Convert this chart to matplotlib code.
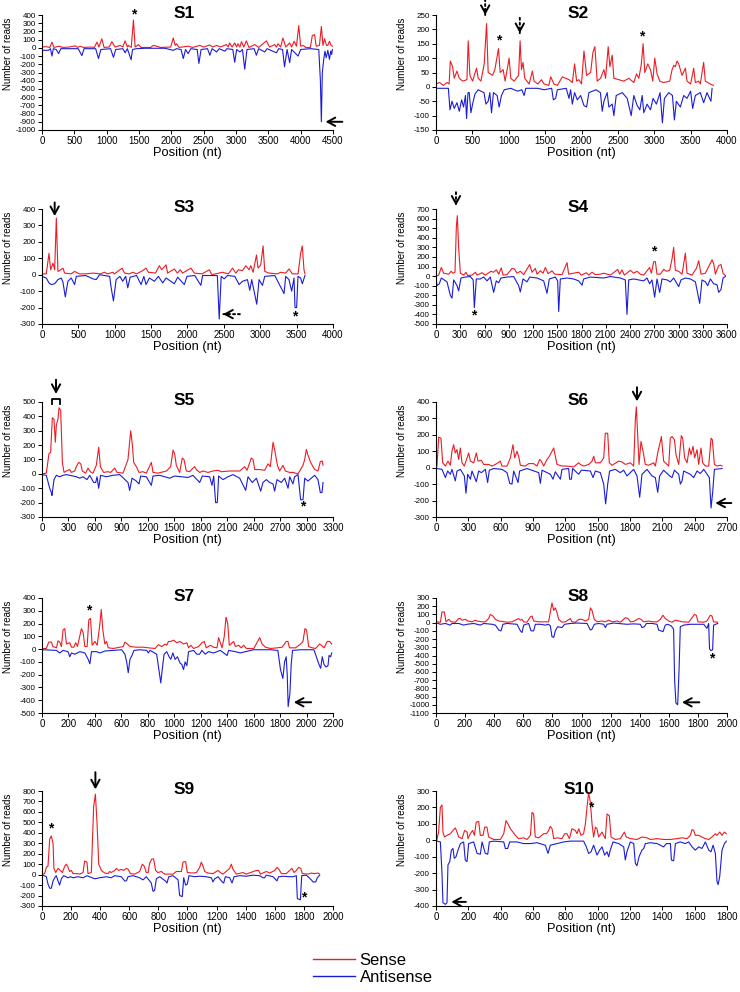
import numpy as np
import matplotlib.pyplot as plt
from matplotlib.lines import Line2D

plt.rcParams['font.family'] = ['Liberation Sans', 'DejaVu Sans']
plt.rcParams['axes.unicode_minus'] = False

RED = '#ec1c24'
BLUE = '#1c1cd8'

# read counts along each genome segment: (position nt, reads)
s1_sense = [(0, 10), (60, 15), (120, 5), (154, 70), (185, 5), (257, 20), (330, 5), (420, 10), (515, 25), (550, 5),
            (590, 20), (640, 5), (760, 10), (810, 5), (850, 70), (880, 10), (925, 110), (960, 5), (1040, 10), (1080, 75),
            (1130, 10), (1210, 30), (1250, 10), (1285, 85), (1320, 10), (1336, 30), (1380, 5), (1414, 340), (1440, 10),
            (1490, 40), (1530, 5), (1680, 5), (1720, 30), (1775, 20), (1830, 5), (1990, 10), (2030, 120), (2060, 30),
            (2080, 50), (2120, 5), (2260, 20), (2330, 5), (2440, 30), (2500, 10), (2595, 35), (2640, 10), (2700, 30),
            (2760, 10), (2850, 40), (2880, 10), (2900, 60), (2940, 10), (2980, 60), (3010, 10), (3030, 50), (3060, 10),
            (3085, 75), (3120, 10), (3160, 85), (3200, 5), (3290, 40), (3350, 5), (3470, 85), (3520, 10), (3600, 40),
            (3625, 10), (3650, 50), (3690, 10), (3725, 120), (3770, 10), (3830, 60), (3860, 10), (3900, 80), (3935, 20),
            (3970, 270), (4000, 20), (4035, 30), (4080, 5), (4150, 5), (4180, 150), (4215, 160), (4240, 20), (4290, 30),
            (4320, 260), (4345, 30), (4370, 110), (4400, 30), (4420, 30), (4445, 80), (4470, 30), (4490, 20)]
s1_anti = [(0, -30), (100, -30), (130, -10), (154, -100), (175, -10), (220, -20), (257, -70), (290, -10), (400, -10),
           (560, -10), (617, -95), (650, -10), (830, -10), (874, -130), (910, -20), (1060, -10), (1105, -115), (1140, -20),
           (1250, -10), (1285, -60), (1320, -10), (1378, -145), (1400, -20), (1460, -10), (1600, -5), (1900, -5),
           (2030, -30), (2080, -10), (2150, -20), (2185, -130), (2220, -20), (2260, -70), (2300, -10), (2400, -20),
           (2426, -190), (2460, -20), (2560, -10), (2595, -90), (2630, -10), (2700, -50), (2740, -10), (2827, -40),
           (2860, -10), (2950, -20), (2980, -175), (3010, -20), (3060, -50), (3100, -20), (3135, -260), (3170, -20),
           (3280, -10), (3315, -90), (3350, -10), (3445, -50), (3480, -10), (3625, -60), (3660, -10), (3720, -20),
           (3750, -230), (3790, -20), (3830, -180), (3860, -20), (3960, -100), (4000, -20), (4150, -10), (4280, -20),
           (4305, -400), (4320, -900), (4335, -300), (4355, -150), (4375, -40), (4395, -120), (4420, -30), (4445, -140),
           (4465, -40), (4480, -80), (4490, -20)]

s2_sense = [(0, 10), (50, 15), (100, 5), (150, 15), (180, 10), (197, 90), (228, 70), (251, 30), (288, 55), (320, 30),
            (366, 20), (425, 25), (443, 160), (466, 40), (503, 20), (557, 65), (580, 30), (617, 20), (663, 80), (695, 220),
            (717, 50), (777, 40), (809, 60), (859, 133), (882, 50), (923, 60), (950, 20), (1005, 100), (1028, 30),
            (1074, 20), (1135, 40), (1156, 160), (1175, 60), (1197, 85), (1220, 30), (1280, 10), (1325, 55), (1348, 20),
            (1400, 10), (1449, 25), (1485, 10), (1550, 5), (1577, 35), (1622, 10), (1668, 5), (1737, 35), (1782, 30),
            (1828, 25), (1874, 15), (1905, 80), (1933, 20), (1965, 25), (2000, 10), (2034, 125), (2070, 40), (2125, 50),
            (2157, 120), (2184, 140), (2216, 20), (2262, 30), (2308, 60), (2331, 30), (2367, 140), (2390, 70),
            (2422, 110), (2445, 30), (2513, 25), (2582, 20), (2651, 30), (2719, 15), (2756, 45), (2788, 30), (2820, 75),
            (2847, 150), (2870, 50), (2911, 80), (2948, 60), (2980, 20), (3007, 100), (3039, 45), (3076, 20), (3130, 15),
            (3213, 20), (3245, 60), (3268, 75), (3290, 70), (3313, 90), (3336, 80), (3359, 60), (3382, 40), (3428, 65),
            (3450, 20), (3500, 10), (3542, 65), (3565, 15), (3611, 20), (3633, 10), (3679, 85), (3702, 20), (3770, 10),
            (3815, 5)]
s2_anti = [(0, -5), (100, -5), (170, -5), (192, -80), (220, -50), (251, -75), (288, -55), (320, -85), (352, -45),
           (379, -70), (405, -30), (420, -110), (440, -20), (457, -20), (480, -90), (503, -60), (535, -25), (580, -10),
           (617, -15), (660, -20), (686, -60), (717, -50), (740, -20), (763, -90), (790, -20), (840, -30), (868, -70),
           (900, -30), (937, -10), (1028, -5), (1120, -15), (1180, -10), (1211, -30), (1234, -5), (1400, -5), (1485, -10),
           (1590, -5), (1613, -45), (1645, -40), (1668, -10), (1790, -5), (1828, -40), (1850, -10), (1874, -60),
           (1905, -20), (1942, -45), (1988, -30), (2034, -65), (2070, -70), (2102, -20), (2200, -10), (2260, -20),
           (2285, -85), (2308, -50), (2353, -20), (2376, -70), (2422, -60), (2445, -100), (2477, -30), (2560, -20),
           (2628, -40), (2683, -100), (2719, -30), (2765, -65), (2802, -80), (2834, -30), (2856, -90), (2902, -60),
           (2948, -80), (2984, -40), (3030, -60), (3080, -20), (3112, -125), (3140, -40), (3199, -20), (3250, -30),
           (3277, -115), (3304, -50), (3359, -70), (3405, -30), (3450, -40), (3500, -15), (3528, -75), (3565, -30),
           (3633, -20), (3679, -55), (3725, -20), (3779, -50), (3795, -5)]

s3_sense = [(0, 5), (59, 5), (96, 130), (119, 30), (151, 70), (174, 30), (197, 345), (219, 20), (242, 25), (288, 40),
            (311, 10), (400, 5), (448, 20), (516, 5), (600, 5), (700, 10), (800, 5), (859, 15), (900, 5), (973, 15),
            (996, 5), (1101, 40), (1133, 10), (1200, 5), (1248, 15), (1300, 5), (1385, 25), (1430, 40), (1462, 15),
            (1560, 10), (1613, 55), (1645, 30), (1705, 60), (1727, 10), (1819, 35), (1860, 10), (1901, 30), (1933, 10),
            (2047, 40), (2093, 10), (2200, 5), (2299, 30), (2335, 0), (2482, 15), (2560, 5), (2619, 40), (2664, 10),
            (2701, 30), (2756, 25), (2801, 55), (2847, 30), (2870, 55), (2902, 15), (2948, 120), (2970, 40), (3007, 60),
            (3039, 175), (3062, 20), (3121, 10), (3236, 5), (3281, 15), (3350, 10), (3395, 35), (3441, 5), (3520, 5),
            (3555, 130), (3578, 175), (3601, 30), (3615, 5)]
s3_anti = [(0, -10), (59, -20), (96, -50), (128, -60), (174, -55), (219, -30), (265, -20), (288, -45), (320, -135),
           (356, -40), (402, -20), (448, -60), (471, -10), (600, -5), (700, -25), (745, -30), (791, 0), (930, -10),
           (951, -80), (982, -160), (1019, -30), (1070, -10), (1110, -40), (1150, -10), (1179, -80), (1211, -15),
           (1300, -5), (1362, -60), (1400, -10), (1430, -60), (1476, -20), (1545, -40), (1600, -10), (1659, -50),
           (1705, -20), (1819, -55), (1865, -15), (1956, -60), (1993, -10), (2100, -5), (2184, -65), (2207, -5),
           (2410, -5), (2436, -270), (2463, -10), (2504, -25), (2550, -5), (2650, -10), (2710, -60), (2756, -40),
           (2824, -30), (2856, -95), (2883, -30), (2952, -180), (2984, -30), (3030, -65), (3062, -10), (3200, -5),
           (3327, -115), (3350, -10), (3395, -30), (3432, -100), (3464, -20), (3478, -200), (3500, -200), (3519, -10),
           (3555, -20), (3578, -55), (3615, -5)]

s4_sense = [(0, 0), (33, 10), (66, 90), (95, 30), (157, 20), (186, 50), (210, 30), (235, 40), (252, 520), (264, 630),
            (280, 300), (301, 30), (342, 10), (371, 40), (392, 5), (445, 10), (487, 40), (507, 10), (569, 35), (610, 10),
            (680, 50), (713, 40), (746, 65), (775, 20), (808, 85), (829, 10), (878, 15), (940, 80), (969, 75), (1002, 30),
            (1043, 50), (1085, 15), (1159, 120), (1188, 40), (1229, 80), (1250, 20), (1291, 55), (1324, 30), (1353, 90),
            (1386, 25), (1435, 55), (1468, 20), (1559, 15), (1621, 140), (1641, 20), (1703, 30), (1765, 40), (1798, 10),
            (1860, 35), (1889, 10), (1930, 40), (1971, 15), (2033, 20), (2074, 30), (2157, 10), (2248, 70), (2272, 20),
            (2301, 65), (2330, 10), (2404, 60), (2446, 30), (2487, 50), (2528, 20), (2569, 10), (2643, 90), (2664, 30),
            (2693, 150), (2714, 150), (2734, 20), (2775, 20), (2817, 70), (2850, 50), (2891, 60), (2920, 180),
            (2940, 300), (2961, 60), (3002, 50), (3044, 20), (3085, 240), (3105, 30), (3167, 10), (3221, 80), (3250, 160),
            (3279, 20), (3332, 30), (3415, 170), (3435, 130), (3456, 20), (3497, 110), (3526, 120), (3551, 30), (3580, 5)]
s4_anti = [(0, -10), (12, -100), (41, -80), (66, -20), (136, -60), (177, -200), (198, -230), (219, -40), (260, -100),
           (280, -155), (309, -20), (363, -10), (425, -5), (460, -40), (474, -330), (499, -30), (548, -30), (590, -10),
           (631, -50), (672, -10), (713, -170), (746, -50), (775, -70), (804, -20), (878, -10), (961, -5), (1023, -100),
           (1043, -165), (1076, -30), (1126, -60), (1159, -10), (1250, -20), (1332, -50), (1373, -180), (1402, -30),
           (1476, -10), (1505, -50), (1518, -370), (1538, -30), (1621, -20), (1703, -30), (1765, -50), (1806, -95),
           (1827, -30), (1909, -10), (2074, -20), (2157, -5), (2280, -20), (2342, -40), (2363, -400), (2384, -40),
           (2446, -30), (2569, -50), (2610, -20), (2643, -80), (2672, -40), (2705, -220), (2734, -30), (2767, -170),
           (2796, -30), (2858, -40), (2899, -60), (2940, -20), (3002, -110), (3031, -40), (3085, -20), (3147, -30),
           (3209, -60), (3262, -285), (3291, -40), (3332, -60), (3361, -100), (3394, -30), (3435, -80), (3476, -90),
           (3497, -170), (3526, -140), (3551, -20), (3580, -5)]

s5_sense = [(0, 0), (49, 5), (79, 140), (98, 150), (117, 390), (136, 380), (151, 220), (163, 340), (181, 380),
            (193, 460), (212, 440), (231, 80), (250, 10), (276, 20), (314, 30), (333, 10), (370, 20), (389, 50),
            (416, 80), (439, 70), (457, 20), (495, 5), (522, 40), (548, 15), (578, 5), (616, 60), (643, 185), (662, 50),
            (699, 10), (748, 15), (779, 10), (824, 40), (851, 10), (919, 5), (975, 100), (1006, 300), (1025, 200),
            (1040, 80), (1070, 50), (1100, 10), (1145, 15), (1183, 5), (1240, 80), (1259, 10), (1315, 5), (1410, 20),
            (1459, 50), (1486, 165), (1504, 140), (1523, 60), (1561, 10), (1591, 110), (1610, 100), (1637, 20),
            (1675, 15), (1712, 40), (1731, 50), (1750, 30), (1788, 10), (1826, 20), (1882, 10), (1939, 20), (1996, 25),
            (2034, 15), (2128, 20), (2242, 20), (2298, 50), (2325, 25), (2374, 110), (2393, 100), (2412, 30), (2468, 30),
            (2525, 25), (2563, 70), (2589, 50), (2620, 220), (2638, 170), (2669, 60), (2695, 20), (2733, 60), (2760, 20),
            (2809, 10), (2846, 10), (2903, 0), (2960, 60), (2979, 100), (2998, 170), (3016, 130), (3047, 80), (3073, 50),
            (3092, 30), (3130, 20), (3156, 85), (3179, 90), (3187, 60)]
s5_anti = [(0, -5), (49, -10), (87, -100), (106, -130), (113, -150), (136, -40), (163, -10), (200, -20), (238, -10),
           (276, -5), (389, -20), (427, -30), (465, -20), (510, -40), (541, -10), (586, -60), (609, -60), (624, -20),
           (643, -100), (665, -10), (730, -20), (805, -10), (881, -5), (975, -60), (994, -115), (1021, -30), (1070, -50),
           (1100, -70), (1119, -15), (1183, -20), (1240, -80), (1259, -15), (1334, -10), (1391, -20), (1448, -30),
           (1504, -15), (1580, -20), (1656, -25), (1712, -10), (1788, -60), (1818, -15), (1901, -20), (1928, -80),
           (1947, -15), (1969, -200), (1988, -200), (2003, -15), (2053, -40), (2109, -20), (2166, -5), (2242, -30),
           (2310, -115), (2336, -20), (2385, -60), (2431, -30), (2480, -120), (2506, -60), (2544, -40), (2582, -60),
           (2620, -70), (2638, -120), (2665, -40), (2714, -60), (2752, -30), (2790, -100), (2809, -20), (2846, -70),
           (2865, -20), (2903, -5), (2933, -180), (2960, -180), (2979, -30), (3016, -50), (3054, -30), (3092, -10),
           (3130, -40), (3156, -130), (3175, -130), (3187, -60)]

s6_sense = [(9, 10), (25, 185), (46, 180), (62, 30), (87, 10), (111, 40), (133, 15), (148, 100), (164, 140), (179, 90),
            (195, 110), (210, 50), (226, 120), (241, 30), (263, 10), (288, 60), (303, 90), (319, 40), (350, 30),
            (374, 90), (390, 40), (421, 45), (442, 20), (489, 20), (520, 10), (551, 20), (597, 40), (612, 10), (659, 10),
            (690, 60), (705, 110), (714, 140), (730, 60), (752, 100), (767, 70), (783, 15), (829, 10), (860, 25),
            (906, 25), (937, 10), (962, 50), (977, 40), (999, 10), (1030, 50), (1052, 70), (1076, 100), (1092, 120),
            (1107, 70), (1123, 20), (1169, 10), (1216, 10), (1277, 5), (1324, 30), (1339, 20), (1370, 10), (1417, 20),
            (1448, 40), (1463, 70), (1479, 30), (1525, 30), (1556, 60), (1571, 210), (1593, 210), (1608, 30), (1633, 15),
            (1695, 40), (1726, 35), (1757, 20), (1803, 30), (1834, 10), (1850, 300), (1859, 370), (1871, 200),
            (1884, 20), (1902, 160), (1921, 100), (1942, 20), (1973, 15), (2020, 30), (2035, 10), (2060, 100),
            (2082, 160), (2091, 190), (2112, 40), (2159, 10), (2174, 180), (2190, 190), (2212, 170), (2227, 80),
            (2252, 20), (2276, 195), (2289, 180), (2307, 60), (2329, 30), (2351, 120), (2366, 80), (2385, 130),
            (2400, 60), (2422, 110), (2437, 20), (2459, 120), (2474, 30), (2499, 10), (2530, 10), (2552, 180),
            (2564, 170), (2583, 20), (2608, 10), (2638, 15), (2654, 10)]
s6_anti = [(9, -5), (56, -10), (87, -60), (108, -20), (133, -40), (148, -10), (179, -80), (195, -20), (226, -10),
           (263, -50), (278, -155), (294, -40), (319, -70), (334, -20), (374, -85), (396, -20), (421, -30), (458, -10),
           (479, -90), (495, -15), (535, -5), (612, -10), (659, -30), (684, -95), (705, -100), (721, -20), (761, -90),
           (776, -20), (844, -5), (953, -30), (968, -95), (984, -15), (1061, -40), (1086, -70), (1107, -25), (1154, -70),
           (1169, -10), (1231, -5), (1240, -70), (1256, -70), (1268, -5), (1324, -40), (1349, -15), (1432, -20),
           (1457, -60), (1479, -20), (1525, -30), (1556, -100), (1574, -220), (1593, -100), (1611, -20), (1664, -10),
           (1710, -30), (1741, -15), (1772, -50), (1803, -30), (1834, -10), (1865, -50), (1890, -180), (1911, -40),
           (1958, -10), (2004, -50), (2035, -60), (2057, -150), (2075, -50), (2112, -15), (2168, -50), (2190, -60),
           (2212, -15), (2252, -40), (2267, -100), (2283, -80), (2298, -20), (2360, -40), (2391, -60), (2422, -20),
           (2453, -35), (2484, -10), (2536, -60), (2552, -245), (2567, -150), (2583, -10), (2654, -5)]

s7_sense = [(8, 5), (33, 5), (51, 55), (71, 55), (83, 20), (109, 10), (121, 65), (134, 55), (147, 20), (159, 150),
            (172, 160), (185, 40), (210, 50), (223, 15), (240, 15), (255, 50), (268, 20), (298, 160), (311, 130),
            (324, 20), (341, 20), (354, 230), (367, 240), (379, 30), (400, 60), (417, 30), (438, 200), (448, 310),
            (460, 150), (475, 40), (488, 60), (501, 10), (539, 5), (614, 20), (627, 55), (645, 40), (665, 20), (716, 15),
            (766, 15), (804, 10), (855, 5), (880, 35), (905, 20), (931, 40), (943, 30), (956, 60), (974, 60), (994, 70),
            (1019, 50), (1044, 60), (1070, 40), (1095, 50), (1108, 10), (1125, 30), (1146, 5), (1184, 20), (1209, 50),
            (1227, 60), (1242, 10), (1272, 30), (1297, 15), (1323, 10), (1335, 90), (1348, 50), (1361, 10), (1378, 100),
            (1391, 250), (1404, 200), (1416, 30), (1449, 60), (1462, 20), (1487, 30), (1505, 10), (1525, 30), (1545, 5),
            (1601, 5), (1646, 90), (1664, 40), (1689, 15), (1727, 5), (1778, 10), (1816, 15), (1846, 60), (1859, 60),
            (1871, 10), (1917, 10), (1955, 40), (1973, 60), (1988, 160), (2000, 150), (2016, 20), (2043, 10), (2069, 5),
            (2099, 40), (2112, 30), (2132, 10), (2157, 60), (2175, 60), (2190, 40)]
s7_anti = [(8, -5), (109, -10), (134, -30), (159, -10), (197, -20), (210, -60), (223, -30), (248, -40), (286, -20),
           (324, -30), (349, -80), (362, -115), (374, -20), (412, -20), (438, -30), (475, -15), (539, -10), (602, -5),
           (627, -40), (640, -100), (652, -185), (665, -80), (680, -50), (695, -10), (741, -5), (792, -10), (804, -30),
           (817, -10), (867, -40), (885, -170), (898, -265), (910, -150), (923, -40), (943, -20), (961, -60), (974, -80),
           (989, -30), (1006, -80), (1024, -60), (1044, -110), (1057, -120), (1070, -160), (1082, -100), (1095, -130),
           (1108, -20), (1146, -10), (1171, -40), (1191, -40), (1209, -10), (1234, -40), (1259, -20), (1297, -30),
           (1348, -10), (1399, -50), (1411, -10), (1462, -20), (1500, -30), (1538, -20), (1601, -5), (1727, -5),
           (1783, -10), (1803, -160), (1821, -230), (1834, -100), (1846, -60), (1854, -200), (1861, -450), (1874, -350),
           (1884, -120), (1894, -10), (1955, -5), (2056, -5), (2094, -120), (2107, -150), (2119, -60), (2132, -120),
           (2147, -140), (2162, -130), (2170, -50), (2182, -60), (2190, -30)]

s8_sense = [(7, 10), (30, 5), (41, 130), (57, 130), (69, 10), (87, 40), (105, 10), (133, 5), (156, 50), (167, 50),
            (179, 30), (202, 40), (218, 20), (247, 10), (270, 30), (282, 20), (316, 10), (339, 10), (362, 50), (373, 100),
            (392, 80), (408, 40), (431, 20), (454, 15), (488, 5), (522, 10), (568, 50), (580, 30), (591, 40), (603, 10),
            (625, 5), (648, 70), (660, 80), (671, 20), (706, 10), (774, 10), (786, 130), (797, 240), (809, 150),
            (820, 180), (832, 120), (843, 40), (866, 5), (889, 10), (923, 50), (935, 10), (958, 5), (981, 40), (1004, 40),
            (1026, 20), (1049, 40), (1061, 180), (1072, 150), (1088, 40), (1107, 10), (1141, 20), (1164, 10), (1187, 30),
            (1210, 10), (1244, 20), (1267, 5), (1301, 60), (1320, 50), (1336, 10), (1359, 15), (1393, 50), (1409, 40),
            (1427, 10), (1462, 20), (1485, 10), (1519, 10), (1542, 40), (1560, 90), (1576, 50), (1599, 20), (1622, 5),
            (1645, 30), (1668, 20), (1691, 10), (1737, 5), (1776, 100), (1789, 90), (1801, 10), (1840, 5), (1862, 20),
            (1885, 90), (1897, 80), (1908, 10), (1936, 5)]
s8_anti = [(7, -5), (30, -20), (64, -10), (98, -30), (110, -10), (156, -10), (190, -30), (213, -20), (259, -10),
           (305, -30), (328, -10), (385, -20), (408, -30), (431, -90), (447, -100), (460, -20), (488, -10), (557, -20),
           (580, -100), (591, -120), (603, -30), (637, -10), (653, -100), (671, -100), (683, -20), (717, -20), (751, -30),
           (774, -20), (786, -40), (797, -170), (809, -180), (820, -100), (836, -50), (866, -60), (884, -20), (923, -10),
           (969, -5), (1038, -10), (1061, -90), (1072, -80), (1088, -20), (1118, -10), (1152, -20), (1164, -60),
           (1175, -20), (1221, -5), (1313, -20), (1359, -15), (1404, -20), (1416, -60), (1432, -50), (1446, -10),
           (1485, -10), (1519, -20), (1530, -90), (1546, -100), (1560, -110), (1576, -30), (1594, -20), (1617, -40),
           (1633, -80), (1640, -700), (1649, -980), (1661, -1000), (1670, -600), (1679, -50), (1702, -30), (1748, -20),
           (1794, -20), (1840, -20), (1862, -70), (1874, -10), (1880, -320), (1890, -340), (1901, -330), (1908, -30),
           (1936, -10)]

s9_sense = [(7, 5), (18, 10), (30, 70), (41, 80), (53, 340), (64, 370), (76, 300), (82, 60), (94, 20), (110, 60),
            (126, 40), (140, 20), (156, 80), (167, 100), (179, 70), (190, 30), (202, 40), (213, 10), (236, 10), (259, 5),
            (282, 20), (293, 130), (309, 120), (316, 10), (339, 20), (355, 650), (367, 770), (378, 500), (390, 100),
            (408, 40), (431, 15), (454, 10), (465, 30), (476, 20), (499, 40), (511, 60), (527, 40), (545, 50), (561, 40),
            (580, 60), (593, 50), (607, 10), (637, 5), (671, 30), (690, 100), (703, 80), (717, 20), (729, 20), (740, 110),
            (754, 150), (767, 150), (781, 40), (797, 20), (820, 30), (843, 5), (900, 5), (923, 30), (958, 30), (969, 120),
            (987, 125), (999, 20), (1038, 15), (1061, 20), (1084, 70), (1095, 120), (1107, 80), (1118, 30), (1141, 15),
            (1175, 10), (1210, 40), (1226, 20), (1244, 5), (1290, 60), (1301, 100), (1313, 50), (1336, 5), (1381, 20),
            (1404, 5), (1473, 40), (1489, 40), (1501, 5), (1542, 30), (1565, 15), (1599, 40), (1615, 70), (1629, 50),
            (1645, 10), (1679, 10), (1702, 40), (1718, 60), (1732, 20), (1748, 40), (1764, 70), (1778, 60), (1789, 10),
            (1828, 5), (1851, 15), (1874, 10), (1897, 15), (1908, 5)]
s9_anti = [(7, -5), (30, -20), (41, -90), (53, -130), (64, -130), (76, -60), (87, -30), (98, -10), (110, -60),
           (121, -100), (133, -40), (149, -10), (179, -30), (195, -20), (213, -30), (247, -20), (282, -30), (309, -10),
           (362, -40), (396, -30), (442, -20), (476, -30), (499, -10), (545, -20), (568, -60), (580, -60), (591, -20),
           (625, -10), (671, -30), (694, -50), (717, -20), (751, -80), (763, -160), (774, -150), (786, -40), (809, -20),
           (848, -60), (859, -80), (871, -20), (900, -10), (935, -50), (946, -200), (964, -210), (974, -30), (987, -100),
           (999, -90), (1010, -10), (1049, -20), (1084, -15), (1129, -20), (1164, -30), (1175, -70), (1187, -40),
           (1210, -20), (1239, -70), (1249, -80), (1260, -20), (1290, -30), (1306, -80), (1320, -20), (1358, -10),
           (1404, -15), (1450, -5), (1496, -10), (1519, -30), (1530, -30), (1542, -5), (1588, -20), (1615, -60),
           (1626, -20), (1656, -15), (1702, -20), (1725, -20), (1748, -10), (1755, -230), (1776, -240), (1785, -10),
           (1817, -5), (1851, -50), (1863, -70), (1881, -70), (1892, -30), (1908, -5)]

s10_sense = [(6, 5), (16, 50), (27, 200), (37, 215), (43, 50), (52, 20), (68, 30), (89, 40), (105, 60), (120, 75),
             (130, 50), (140, 20), (161, 10), (177, 60), (192, 50), (198, 10), (212, 40), (227, 60), (237, 30), (249, 110),
             (264, 115), (274, 30), (291, 30), (301, 80), (315, 80), (326, 20), (336, 15), (357, 5), (398, 5), (419, 40),
             (433, 120), (445, 100), (460, 70), (476, 50), (491, 30), (511, 10), (542, 15), (563, 5), (584, 30),
             (594, 170), (604, 160), (614, 20), (635, 15), (666, 40), (683, 40), (697, 60), (707, 85), (718, 70),
             (728, 10), (749, 15), (779, 10), (796, 40), (810, 40), (825, 10), (841, 70), (862, 60), (872, 40), (883, 70),
             (897, 30), (913, 40), (924, 100), (934, 200), (944, 290), (955, 230), (965, 100), (975, 20), (986, 80),
             (996, 70), (1006, 20), (1027, 50), (1037, 30), (1047, 10), (1058, 160), (1072, 150), (1083, 20), (1109, 5),
             (1140, 10), (1165, 50), (1177, 20), (1202, 10), (1243, 5), (1274, 20), (1305, 15), (1326, 5), (1367, 10),
             (1408, 5), (1450, 5), (1491, 10), (1522, 15), (1553, 10), (1573, 30), (1584, 65), (1594, 60), (1604, 30),
             (1625, 30), (1645, 20), (1666, 10), (1687, 5), (1707, 20), (1728, 40), (1738, 30), (1755, 50), (1769, 30),
             (1784, 50), (1796, 40)]
s10_anti = [(6, -5), (27, -10), (37, -200), (43, -380), (58, -390), (68, -380), (74, -150), (85, -130), (95, -60),
            (105, -50), (113, -110), (124, -100), (136, -60), (151, -20), (171, -10), (181, -120), (192, -130),
            (202, -20), (233, -10), (254, -80), (274, -85), (285, -10), (305, -80), (320, -85), (330, -10), (357, -5),
            (419, -10), (429, -50), (443, -50), (456, -10), (501, -10), (542, -20), (584, -20), (625, -15), (676, -30),
            (693, -80), (707, -30), (749, -20), (790, -10), (831, -5), (913, -5), (930, -40), (944, -80), (959, -70),
            (975, -30), (996, -90), (1012, -60), (1027, -40), (1043, -90), (1058, -70), (1068, -100), (1078, -60),
            (1095, -10), (1130, -20), (1161, -40), (1171, -120), (1181, -70), (1202, -10), (1223, -20), (1233, -140),
            (1243, -155), (1256, -100), (1274, -60), (1285, -50), (1295, -20), (1326, -15), (1367, -20), (1408, -40),
            (1425, -20), (1450, -20), (1456, -120), (1470, -125), (1481, -20), (1511, -10), (1542, -20), (1563, -10),
            (1584, -40), (1604, -60), (1625, -40), (1645, -50), (1666, -10), (1687, -60), (1701, -70), (1714, -30),
            (1728, -80), (1738, -250), (1745, -270), (1755, -220), (1769, -60), (1784, -20), (1796, -5)]

names = ['S1', 'S2', 'S3', 'S4', 'S5', 'S6', 'S7', 'S8', 'S9', 'S10']
sense = [s1_sense, s2_sense, s3_sense, s4_sense, s5_sense, s6_sense, s7_sense, s8_sense, s9_sense, s10_sense]
antisense = [s1_anti, s2_anti, s3_anti, s4_anti, s5_anti, s6_anti, s7_anti, s8_anti, s9_anti, s10_anti]
x_max = [4500, 4000, 4000, 3600, 3300, 2700, 2200, 2000, 2000, 1800]
x_step = [500, 500, 500, 300, 300, 300, 200, 200, 200, 200]
y_min = [-1000, -150, -300, -500, -300, -300, -500, -1100, -300, -400]
y_max = [400, 250, 400, 700, 500, 400, 400, 300, 800, 300]
y_step = [100, 50, 100, 100, 100, 100, 100, 100, 100, 100]

# asterisks and arrows (tip x, tip y, tail x, tail y, dotted)
stars = [[(1414, 405)], [(859, 163), (2834, 175)], [(3478, -255)], [(2693, 262), (466, -413)],
         [(2952, -226)], [], [(354, 303)], [(1897, -440)], [(57, 440), (1798, -214)], [(955, 200)]]
arrows = [[(4385, -900, 4645, -900, False)],
          [(676, 250, 676, 305, True), (1152, 187, 1152, 240, True)],
          [(174, 357, 174, 440, False), (2490, -240, 2720, -240, True)],
          [(247, 735, 247, 875, True)],
          [(159, 556, 159, 655, False)],
          [(1865, 404, 1865, 490, False), (2592, -215, 2740, -215, False)],
          [(1904, -416, 2035, -416, False)],
          [(1691, -970, 1810, -970, False)],
          [(367, 816, 367, 980, False)],
          [(95, -375, 185, -375, False)]]
s5_bracket = ([113, 113, 204, 204], [484, 524, 524, 484])

W, H = 740, 992
col_left = [42, 436]
row_top = [15, 209, 402, 598, 791]
AX_W, AX_H = 291, 115

fig = plt.figure(figsize=(W / 100, H / 100), dpi=100)

for i, name in enumerate(names):
    r, c = divmod(i, 2)
    ax = fig.add_axes([col_left[c] / W, 1 - (row_top[r] + AX_H) / H, AX_W / W, AX_H / H])
    xs, ys = zip(*sense[i])
    xa, ya = zip(*antisense[i])
    ax.plot(xs, ys, color=RED, lw=0.8)
    ax.plot(xa, ya, color=BLUE, lw=0.8)

    ax.set_xlim(0, x_max[i])
    ax.set_ylim(y_min[i], y_max[i])
    ax.set_xticks(np.arange(0, x_max[i] + 1, x_step[i]))
    ax.set_yticks(np.arange(y_min[i], y_max[i] + 1, y_step[i]))
    for s in ['top', 'right']:
        ax.spines[s].set_visible(False)
    for s in ['left', 'bottom']:
        ax.spines[s].set_linewidth(0.8)
    ax.tick_params(axis='x', direction='out', length=3, width=0.7, pad=1.5, labelsize=7)
    ax.tick_params(axis='y', direction='out', length=3, width=0.7, pad=1.5, labelsize=5.8)

    ax.set_xlabel('Position (nt)', fontsize=9.3)
    ax.xaxis.set_label_coords(0.5, -0.2)
    ax.xaxis.label.set_va('center')
    ax.text(-0.117, 0.66, 'Number of reads', transform=ax.transAxes, rotation=90,
            ha='center', va='center', fontsize=7)
    ax.text(0.49, 1.015, name, transform=ax.transAxes, ha='center', va='center',
            fontsize=12.5, fontweight='bold')

    for sx, sy in stars[i]:
        ax.text(sx, sy, '*', ha='center', va='center', fontsize=10, fontweight='bold', clip_on=False)
    for tx, ty, ox, oy, dotted in arrows[i]:
        if dotted:
            ax.annotate('', xy=(tx, ty), xytext=(ox, oy), annotation_clip=False,
                        arrowprops=dict(arrowstyle='-', lw=1.4, color='black', linestyle=(0, (1, 1.5)),
                                        shrinkA=0, shrinkB=0))
            hx, hy = tx + (ox - tx) * 0.35, ty + (oy - ty) * 0.35
            ax.annotate('', xy=(tx, ty), xytext=(hx, hy), annotation_clip=False,
                        arrowprops=dict(arrowstyle='->,head_length=0.55,head_width=0.3', lw=1.4,
                                        color='black', shrinkA=0, shrinkB=0))
        else:
            ax.annotate('', xy=(tx, ty), xytext=(ox, oy), annotation_clip=False,
                        arrowprops=dict(arrowstyle='->,head_length=0.55,head_width=0.3', lw=1.4,
                                        color='black', shrinkA=0, shrinkB=0))
    if name == 'S5':
        ax.plot(s5_bracket[0], s5_bracket[1], color='black', lw=1.3, clip_on=False)

handles = [Line2D([], [], color=RED, lw=1), Line2D([], [], color=BLUE, lw=1)]
fig.legend(handles, ['Sense', 'Antisense'], loc='upper left', bbox_to_anchor=(313 / W, 1 - 953 / H),
           frameon=False, fontsize=12, handlelength=2.5, handletextpad=0.3, labelspacing=0.1,
           borderpad=0, borderaxespad=0)

fig.savefig('out.png', dpi=100)
